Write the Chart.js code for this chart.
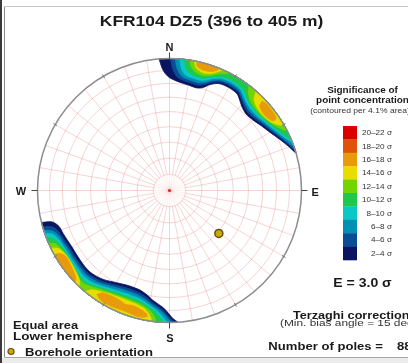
<!DOCTYPE html>
<html><head><meta charset="utf-8">
<script src="https://cdn.jsdelivr.net/npm/chart.js@4.4.1/dist/chart.umd.min.js"></script>
<style>html,body{margin:0;padding:0;background:#fff;overflow:hidden}canvas{display:block}</style>
</head><body>
<canvas id="c" width="408" height="363"></canvas>
<script>
// ---- DATA ----
const titleText = 'KFR104 DZ5 (396 to 405 m)';
const sigmaLevels = [2, 4, 6, 8, 10, 12, 14, 16, 18, 20];
const sigmaLabels = ['2–4 σ','4–6 σ','6–8 σ','8–10 σ','10–12 σ','12–14 σ','14–16 σ','16–18 σ','18–20 σ','20–22 σ'];
const sigmaColors = ['#0a1460','#0a4d94','#0090b4','#0ac8c8','#1ec84a','#74d400','#e8dc00','#e89a0a','#e0520a','#d90000'];
const contourSigma = 'E = 3.0 σ';
const poleCount = '88';
const borehole = { trend: 131, plunge: 49 };

// contour inner boundaries: [azimuth deg, normalised equal-area radius]
const NE_2 = [[-4.5,1],[-3.5,0.93],[-2,0.885],[0,0.855],[5,0.825],[10,0.812],[15,0.804],[18,0.82],[21,0.86],[25,0.893],[30,0.9],[35,0.893],[38,0.865],[41,0.838],[45,0.82],[50,0.828],[55,0.852],[60,0.88],[65,0.92],[70,0.965],[73.5,1]];
const NE_4 = [[0.5,1],[1.5,0.92],[4,0.86],[8,0.838],[12,0.83],[15,0.826],[18,0.842],[21,0.878],[25,0.908],[30,0.915],[35,0.908],[38,0.882],[41,0.857],[45,0.838],[50,0.845],[55,0.867],[60,0.894],[65,0.933],[70,0.975],[72,1]];
const NE_6 = [[2.5,1],[3.5,0.93],[6,0.872],[10,0.853],[15,0.846],[18,0.86],[21,0.893],[25,0.922],[30,0.93],[35,0.922],[38,0.897],[41,0.873],[45,0.855],[50,0.86],[55,0.88],[60,0.907],[65,0.945],[69,0.98],[70.5,1]];
const NE_8 = [[4.5,1],[5.5,0.93],[8,0.882],[12,0.87],[15,0.866],[18,0.878],[21,0.908],[25,0.936],[30,0.944],[35,0.936],[38,0.912],[41,0.888],[45,0.872],[50,0.874],[55,0.893],[60,0.92],[65,0.958],[67.5,0.985],[69,1]];
const NE_10 = [[6.5,1],[7.5,0.94],[10,0.9],[15,0.886],[18,0.896],[21,0.925],[25,0.952],[30,0.96],[35,0.952],[38,0.93],[41,0.905],[45,0.89],[50,0.888],[55,0.905],[60,0.933],[64,0.965],[67,1]];
const NE_12a = [[9,1],[10,0.95],[13,0.915],[17,0.91],[20,0.93],[23,0.96],[26,0.985],[27,1]];
const NE_12b = [[37,1],[39,0.95],[42,0.915],[46,0.9],[51,0.898],[55,0.915],[59,0.945],[62,0.98],[63,1]];
const NE_14a = [[11,1],[12,0.955],[15,0.93],[18,0.932],[21,0.955],[23,0.985],[24,1]];
const NE_14b = [[41,1],[43,0.94],[47,0.912],[52,0.91],[56,0.928],[59,0.965],[60,1]];
const NE_16a = [[12,0.99],[12.5,0.965],[15,0.948],[18,0.95],[20.5,0.965],[22,0.99]];
const NE_16b = [[46,0.975],[47,0.935],[50,0.92],[53,0.922],[56,0.945],[56,0.975],[52,0.985],[48,0.985]];

const SW_2 = [[256,1],[255,0.92],[252,0.88],[248,0.869],[244,0.86],[240,0.854],[236,0.855],[232,0.858],[228,0.862],[224,0.862],[221,0.855],[218,0.845],[215,0.832],[212,0.815],[208,0.798],[204,0.786],[200,0.783],[196,0.788],[192,0.81],[189,0.838],[186,0.862],[183,0.89],[180.5,0.93],[178.5,0.97],[176.5,1]];
const SW_4 = [[254,1],[253,0.935],[250,0.897],[246,0.885],[240,0.872],[236,0.873],[232,0.876],[228,0.88],[224,0.88],[221,0.873],[218,0.863],[215,0.85],[212,0.835],[208,0.818],[204,0.807],[200,0.804],[196,0.81],[192,0.83],[189,0.856],[186,0.88],[183,0.91],[181,0.945],[179,0.98],[178,1]];
const SW_6 = [[252.5,1],[251,0.94],[248,0.907],[244,0.897],[240,0.889],[236,0.89],[232,0.893],[228,0.897],[224,0.898],[221,0.892],[218,0.882],[215,0.868],[212,0.853],[208,0.837],[204,0.827],[200,0.825],[196,0.83],[192,0.85],[189,0.873],[186,0.897],[183,0.93],[181,0.965],[179.5,1]];
const SW_8 = [[251,1],[249.5,0.945],[246,0.917],[242,0.908],[238,0.905],[234,0.907],[230,0.912],[226,0.918],[222,0.915],[219,0.905],[215,0.885],[212,0.872],[208,0.857],[204,0.848],[200,0.846],[196,0.85],[192,0.868],[189,0.89],[186,0.915],[183.5,0.95],[182,0.98],[181,1]];
const SW_10 = [[249,1],[247.5,0.952],[244,0.928],[240,0.918],[236,0.918],[232,0.925],[228,0.935],[224,0.942],[221,0.935],[218,0.918],[215,0.9],[212,0.888],[208,0.875],[204,0.867],[200,0.865],[196,0.868],[192,0.885],[189,0.905],[186,0.935],[184,0.97],[183,1]];
const SW_12 = [[246.5,1],[245,0.955],[242,0.935],[238,0.93],[234,0.932],[230,0.942],[226,0.955],[223,0.96],[220,0.945],[217,0.925],[213,0.905],[208,0.89],[204,0.882],[200,0.88],[196,0.884],[192,0.9],[189,0.925],[187,0.96],[186,1]];
const SW_14a = [[244,1],[242.5,0.95],[239,0.925],[235,0.922],[230,0.935],[226,0.955],[224,0.98],[223.5,1]];
const SW_14b = [[220,1],[218,0.955],[214,0.925],[210,0.905],[205,0.895],[200,0.893],[196,0.898],[192,0.915],[190,0.94],[188.5,0.97],[188,1]];
const SW_16a = [[241,0.995],[240,0.955],[237.5,0.93],[234,0.935],[230,0.95],[227,0.97],[226,0.995]];
const SW_16b = [[215,0.96],[213,0.925],[209,0.912],[205,0.912],[201,0.925],[198,0.915],[194,0.925],[191,0.945],[190,0.97],[194,0.985],[200,0.975],[206,0.98],[212,0.982]];

// [sigma level, boundary, kind] kind: 'rim' closes along primitive circle, 'loop' closes on itself
const contourList = [
  [2, NE_2, 'rim'], [2, SW_2, 'rim'],
  [4, NE_4, 'rim'], [4, SW_4, 'rim'],
  [6, NE_6, 'rim'], [6, SW_6, 'rim'],
  [8, NE_8, 'rim'], [8, SW_8, 'rim'],
  [10, NE_10, 'rim'], [10, SW_10, 'rim'],
  [12, NE_12a, 'rim'], [12, NE_12b, 'rim'], [12, SW_12, 'rim'],
  [14, NE_14a, 'rim'], [14, NE_14b, 'rim'], [14, SW_14a, 'rim'], [14, SW_14b, 'rim'],
  [16, NE_16a, 'rim'], [16, NE_16b, 'loop'], [16, SW_16a, 'rim'], [16, SW_16b, 'loop']
];

// ---- helpers ----
const D2R = Math.PI / 180;
function toXY(az, r) { return { x: r * Math.sin(az * D2R), y: r * Math.cos(az * D2R) }; }
function closeShape(pts, kind) {
  const out = pts.slice();
  if (kind === 'rim') {
    const a0 = pts[0][0], a1 = pts[pts.length - 1][0];
    const n = Math.max(2, Math.ceil(Math.abs(a1 - a0) / 3));
    for (let i = 1; i < n; i++) out.push([a1 + (a0 - a1) * i / n, 1]);
  }
  out.push(pts[0]);
  return out;
}
function eqArea(plunge) { return Math.SQRT2 * Math.sin((90 - plunge) / 2 * D2R); }

const datasets = [];
datasets.push({
  type: 'scatter', label: 'Borehole orientation', order: 0,
  data: [toXY(borehole.trend, eqArea(borehole.plunge))],
  pointRadius: 4, pointBackgroundColor: '#c2b000', pointBorderColor: '#6e4812', pointBorderWidth: 1.5
});
contourList.forEach(([lvl, pts, kind]) => {
  const idx = sigmaLevels.indexOf(lvl);
  datasets.push({
    type: 'line', label: sigmaLabels[idx], order: 50 - idx,
    data: closeShape(pts, kind).map(p => toXY(p[0], p[1])),
    showLine: true, fill: 'shape', tension: 0.3,
    backgroundColor: sigmaColors[idx], borderColor: sigmaColors[idx], borderWidth: 0.8,
    pointRadius: 0, pointHoverRadius: 0, clip: false
  });
});

const netPlunges = [80, 70, 60, 50, 40, 30, 20, 10];

const netPlugin = {
  id: 'net',
  beforeDraw(chart) {
    const c = chart.ctx; c.save(); c.fillStyle = '#fff'; c.fillRect(0, 0, chart.width, chart.height); c.restore();
  },
  beforeDatasetsDraw(chart) {
    const { ctx, scales: { x, y } } = chart;
    const cx = x.getPixelForValue(0), cy = y.getPixelForValue(0), R = x.getPixelForValue(1) - cx;
    ctx.save();
    ctx.lineWidth = 0.7;
    ctx.strokeStyle = 'rgba(226,100,100,0.4)';
    netPlunges.forEach(p => { ctx.beginPath(); ctx.arc(cx, cy, eqArea(p) * R, 0, Math.PI * 2); ctx.stroke(); });
    const r1 = eqArea(80) * R;
    for (let a = 0; a < 360; a += 10) {
      const s = Math.sin(a * D2R), co = Math.cos(a * D2R);
      ctx.strokeStyle = 'rgba(226,100,100,0.4)';
      ctx.beginPath(); ctx.moveTo(cx + s * r1, cy - co * r1); ctx.lineTo(cx + s * R, cy - co * R); ctx.stroke();
      ctx.strokeStyle = 'rgba(226,100,100,0.15)';
      ctx.beginPath(); ctx.moveTo(cx, cy); ctx.lineTo(cx + s * r1, cy - co * r1); ctx.stroke();
    }
    ctx.fillStyle = '#e02828';
    ctx.beginPath(); ctx.arc(cx, cy, 1.6, 0, Math.PI * 2); ctx.fill();
    ctx.restore();
  },
  afterDatasetsDraw(chart) {
    const { ctx, scales: { x, y } } = chart;
    const cx = x.getPixelForValue(0), cy = y.getPixelForValue(0), R = x.getPixelForValue(1) - cx;
    ctx.save();
    ctx.strokeStyle = '#8c8c8c'; ctx.lineWidth = 1.5;
    ctx.beginPath(); ctx.arc(cx, cy, R, 0, Math.PI * 2); ctx.stroke();
    ctx.lineWidth = 1;
    for (let a = 0; a < 360; a += 30) {
      const s = Math.sin(a * D2R), co = Math.cos(a * D2R);
      const card = a % 90 === 0;
      const ri = card ? R : R - 2, ro = card ? R + 6 : R + 2;
      ctx.strokeStyle = card ? '#444' : '#777';
      ctx.beginPath(); ctx.moveTo(cx + s * ri, cy - co * ri); ctx.lineTo(cx + s * ro, cy - co * ro); ctx.stroke();
    }
    ctx.restore();
  }
};

const FONT = 'Arial, "Liberation Sans", sans-serif';
function txt(ctx, s, x, y, font, align, sx, color) {
  ctx.save(); ctx.translate(x, y); ctx.scale(sx, 1);
  ctx.font = font + ' ' + FONT; ctx.textAlign = align; ctx.textBaseline = 'alphabetic';
  ctx.fillStyle = color || '#1a1a1a'; ctx.fillText(s, 0, 0); ctx.restore();
}

const textPlugin = {
  id: 'texts',
  afterDraw(chart) {
    const ctx = chart.ctx;
    // frame
    ctx.save();
    ctx.fillStyle = '#3a3a3a'; ctx.fillRect(0, 0, 2, 363);
    ctx.strokeStyle = '#8a8a8a'; ctx.lineWidth = 1;
    ctx.beginPath(); ctx.moveTo(4.5, 6.5); ctx.lineTo(4.5, 357.5); ctx.stroke();
    ctx.strokeStyle = '#c4c4c4';
    ctx.beginPath(); ctx.moveTo(4.5, 6.5); ctx.lineTo(408, 6.5); ctx.stroke();
    ctx.strokeStyle = '#a8a8a8';
    ctx.beginPath(); ctx.moveTo(4.5, 357.5); ctx.lineTo(408, 357.5); ctx.stroke();
    ctx.fillStyle = '#ececec'; ctx.fillRect(2, 358, 406, 5);
    ctx.restore();

    txt(ctx, titleText, 211.5, 26, 'bold 15px', 'center', 1.16);
    txt(ctx, 'N', 169.5, 50.5, 'bold 11px', 'center', 1);
    txt(ctx, 'S', 170, 341.5, 'bold 11px', 'center', 1);
    txt(ctx, 'W', 21, 195, 'bold 11px', 'center', 1);
    txt(ctx, 'E', 311.5, 195.5, 'bold 11px', 'left', 1);

    txt(ctx, 'Significance of', 362.5, 93, 'bold 8.5px', 'center', 1.17);
    txt(ctx, 'point concentration', 362.5, 103, 'bold 8.5px', 'center', 1.17);
    txt(ctx, '(contoured per 4.1% area)', 360, 112.5, '7.3px', 'center', 1.17, '#333');

    const top = 126, h = 13.4;
    for (let i = 0; i < sigmaLevels.length; i++) {
      const k = sigmaLevels.length - 1 - i;
      ctx.fillStyle = sigmaColors[k];
      ctx.fillRect(343, top + i * h, 14, h + 0.3);
      txt(ctx, sigmaLabels[k], 392, top + i * h + h / 2 + 2.5, '7px', 'right', 1.17, '#333');
    }

    txt(ctx, contourSigma, 362.5, 286.5, 'bold 12px', 'center', 1.17);
    txt(ctx, 'Terzaghi correction', 293, 318.5, 'bold 11px', 'left', 1.15);
    txt(ctx, '(Min. bias angle = 15 deg)', 280, 326, '9.5px', 'left', 1.25, '#333');
    txt(ctx, 'Number of poles =', 268.3, 349.5, 'bold 11px', 'left', 1.19);
    txt(ctx, poleCount, 397, 349.5, 'bold 11px', 'left', 1.19);

    txt(ctx, 'Equal area', 13, 328.5, 'bold 11px', 'left', 1.17);
    txt(ctx, 'Lower hemisphere', 13, 340, 'bold 11px', 'left', 1.23);
    txt(ctx, 'Borehole orientation', 25, 355.5, 'bold 11px', 'left', 1.19);
    ctx.save();
    ctx.fillStyle = '#c2b000'; ctx.strokeStyle = '#6e4812'; ctx.lineWidth = 1.2;
    ctx.beginPath(); ctx.arc(11, 351.5, 3, 0, Math.PI * 2); ctx.fill(); ctx.stroke();
    ctx.restore();
  }
};

new Chart(document.getElementById('c').getContext('2d'), {
  type: 'scatter',
  data: { datasets },
  options: {
    responsive: false, animation: false, devicePixelRatio: 1, events: [],
    layout: { padding: { left: 37.5, right: 106.5, top: 58.5, bottom: 40.5 } },
    scales: {
      x: { type: 'linear', min: -1, max: 1, display: false },
      y: { type: 'linear', min: -1, max: 1, display: false }
    },
    plugins: { legend: { display: false }, tooltip: { enabled: false }, title: { display: false } }
  },
  plugins: [netPlugin, textPlugin]
});
</script>
</body></html>
